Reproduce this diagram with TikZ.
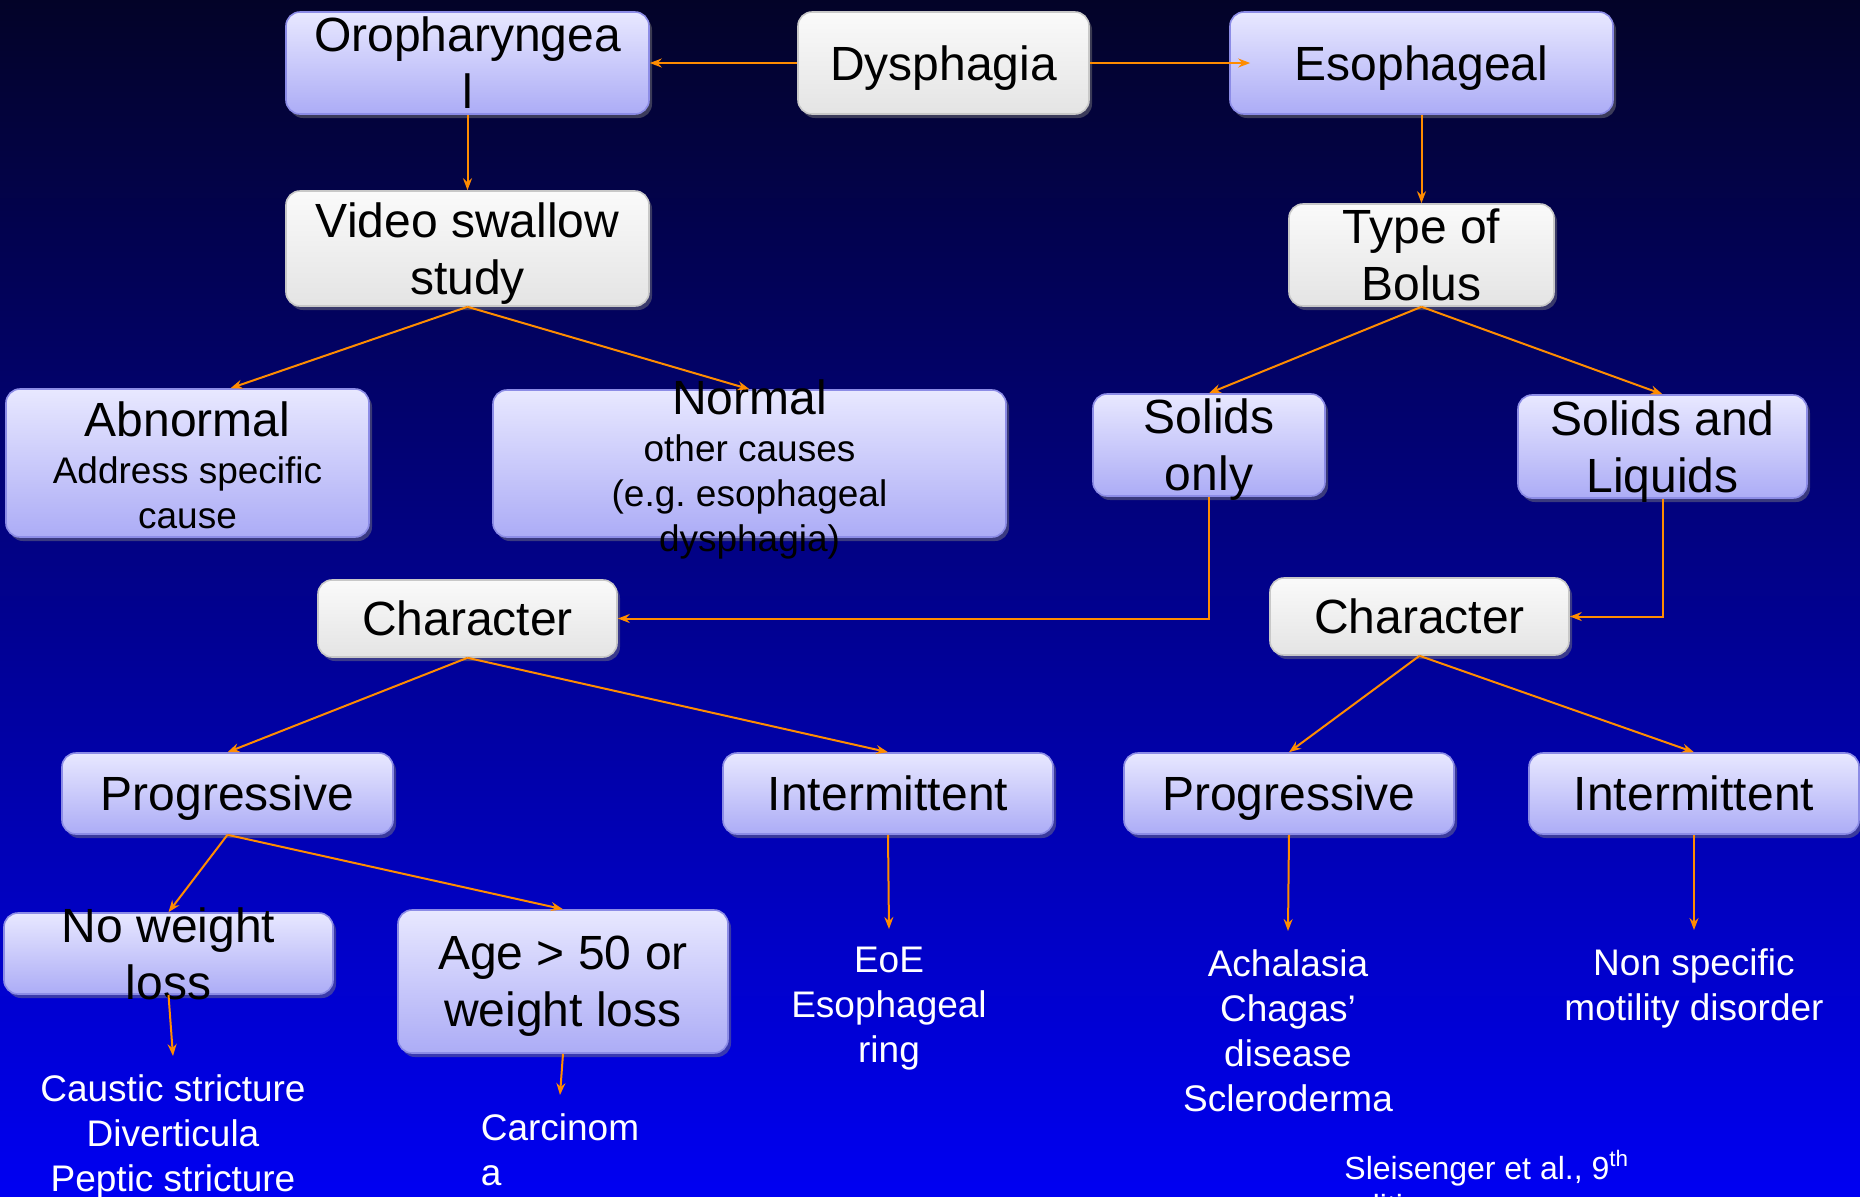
\documentclass[tikz,border=0pt]{standalone}
\usepackage{fontspec}
\setmainfont{Liberation Sans}
\usetikzlibrary{arrows.meta,shadows}
\definecolor{bgtop}{RGB}{3,3,40}
\definecolor{bgbot}{RGB}{0,0,242}
\definecolor{lavtop}{RGB}{232,232,255}
\definecolor{lavbot}{RGB}{172,172,246}
\definecolor{lavline}{RGB}{140,140,230}
\definecolor{wtop}{RGB}{250,250,250}
\definecolor{wbot}{RGB}{228,228,228}
\definecolor{wline}{RGB}{200,200,200}
\definecolor{arr}{RGB}{255,140,0}

\begin{document}
\begin{tikzpicture}[x=0.5pt, y=-0.5pt,
  boxbase/.style = {rounded corners=7pt, line width=0.8pt, inner sep=0pt, text depth=0pt,
    drop shadow={shadow xshift=1.5pt, shadow yshift=-2pt, opacity=0.45},
    font=\fontsize{24}{28.5}\selectfont},
  wbox/.style = {boxbase, draw=wline, top color=wtop, bottom color=wbot},
  lbox/.style = {boxbase, draw=lavline, top color=lavtop, bottom color=lavbot},
  bigtxt/.style = {align=center, text depth=0pt, font=\fontsize{24}{28.5}\selectfont},
  smalltxt/.style = {align=center, font=\fontsize{18.5}{22.5}\selectfont},
  leaf/.style = {smalltxt, text=white, anchor=north, inner sep=9pt},
  link/.style = {draw=arr, line width=1pt, -{Stealth[length=6pt,width=4.5pt,inset=2pt]}}]

  \useasboundingbox (0,0) rectangle (1860,1196);
  \clip (0,0) rectangle (1860,1196);
  \shade[top color=bgtop, bottom color=bgbot] (0,0) rectangle (1860,1196);

  % top row
  \node[wbox, minimum width=145.5pt, minimum height=51pt] (dys) at (943.5,63) {Dysphagia};
  \node[lbox, minimum width=181.5pt, minimum height=51pt,
        label={[bigtxt]center:Oropharyngea\\l}] (oro) at (467.5,63) {};
  \node[lbox, minimum width=191.5pt, minimum height=51pt] (eso) at (1421.5,63) {Esophageal};

  \node[wbox, minimum width=181.5pt, minimum height=57.5pt,
        label={[bigtxt]center:Video swallow\\study}] (vid) at (467.5,248.5) {};
  \node[wbox, minimum width=132.5pt, minimum height=51pt,
        label={[bigtxt]center:Type of\\Bolus}] (tob) at (1421.5,255) {};

  \node[lbox, minimum width=181.5pt, minimum height=74pt,
        label={[smalltxt, yshift=-1pt]center:{\fontsize{24}{28.5}\selectfont Abnormal}\\[1pt]Address specific\\cause}] (abn) at (187.5,463) {};
  \node[lbox, minimum width=256.5pt, minimum height=73.5pt,
        label={[smalltxt, yshift=-3pt]center:{\fontsize{24}{28.5}\selectfont Normal}\\[1pt]other causes\\(e.g.\ esophageal\\dysphagia)}] (nor) at (749.5,463.5) {};
  \node[lbox, minimum width=116pt, minimum height=51pt,
        label={[bigtxt]center:Solids\\only}] (solo) at (1209,445) {};
  \node[lbox, minimum width=144.5pt, minimum height=51.5pt,
        label={[bigtxt]center:Solids and\\Liquids}] (sal) at (1662.5,446.5) {};

  \node[wbox, minimum width=149.5pt, minimum height=38.5pt] (chl) at (467.5,618.5) {Character};
  \node[wbox, minimum width=149.5pt, minimum height=38.5pt] (chr) at (1419.5,616.5) {Character};

  \node[lbox, minimum width=165.5pt, minimum height=40.5pt] (prl) at (227.5,793.5) {Progressive};
  \node[lbox, minimum width=165pt, minimum height=40.5pt] (inl) at (888,793.5) {Intermittent};
  \node[lbox, minimum width=165pt, minimum height=40.5pt] (prr) at (1289,793.5) {Progressive};
  \node[lbox, minimum width=165pt, minimum height=40.5pt] (inr) at (1694,793.5) {Intermittent};

  \node[lbox, minimum width=164.5pt, minimum height=40.5pt,
        label={[bigtxt]center:No weight\\loss}] (nwl) at (168.5,953.5) {};
  \node[lbox, minimum width=165pt, minimum height=71.5pt,
        label={[bigtxt]center:Age > 50 or\\weight loss}] (age) at (563,981.5) {};

  % causes
  \node[leaf] (caus) at (173,1056) {Caustic stricture\\Diverticula\\Peptic stricture};
  \node[leaf, align=left] (carc) at (560,1095) {Carcinom\\a};
  \node[leaf] (eoe) at (889,929) {EoE\\Esophageal\\ring};
  \node[leaf] (acha) at (1288,931) {Achalasia\\Chagas’\\disease\\Scleroderma};
  \node[leaf] (nons) at (1694,930) {Non specific\\motility disorder};

  \node[text=white, anchor=north west, align=left, inner sep=0pt,
        font=\fontsize{16}{19.2}\selectfont] (cite) at (1344,1150) {Sleisenger et al., 9\textsuperscript{th}\\edition};

  \path
    (dys.west) edge[link] (oro.east)
    (dys.east) edge[link] ([xshift=10.5pt]eso.west)
    (oro.south) edge[link] (vid.north)
    (eso.south) edge[link] (tob.north)
    (vid.south) edge[link] ([xshift=21.5pt]abn.north)
    (vid.south) edge[link] (nor.north)
    (tob.south) edge[link] (solo.north)
    (tob.south) edge[link] (sal.north)
    (chl.south) edge[link] (prl.north)
    (chl.south) edge[link] (inl.north)
    (chr.south) edge[link] (prr.north)
    (chr.south) edge[link] (inr.north)
    (prl.south) edge[link] (nwl.north)
    (prl.south) edge[link] (age.north)
    (nwl.south) edge[link] (caus.north)
    (age.south) edge[link] (carc.north)
    (inl.south) edge[link] (eoe.north)
    (prr.south) edge[link] (acha.north)
    (inr.south) edge[link] (nons.north);
  \draw[link] (solo.south) |- (chl.east);
  \draw[link] (sal.south) |- (chr.east);
\end{tikzpicture}
\end{document}
